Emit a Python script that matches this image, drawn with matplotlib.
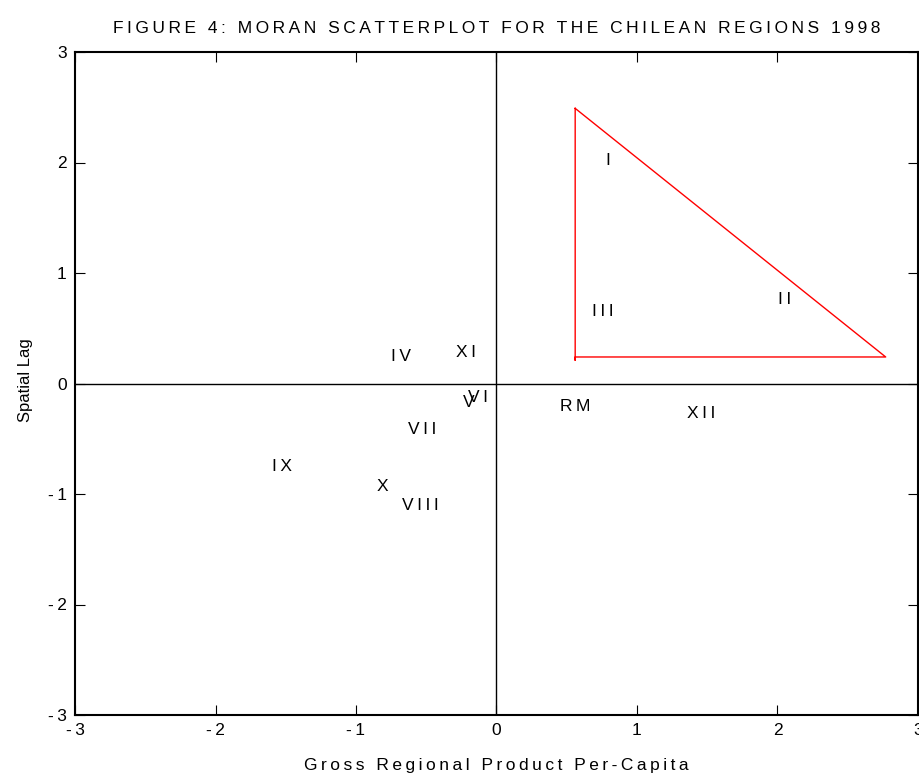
import matplotlib
matplotlib.use("Agg")
import matplotlib.pyplot as plt

# Moran scatterplot, Chilean regions 1998
regions = ["I", "II", "III", "IV", "XI", "V", "VI", "VII", "VIII", "IX", "X", "RM", "XII"]
gdp_pc = [0.79, 2.05, 0.76, -0.68, -0.22, -0.20, -0.13, -0.53, -0.54, -1.53, -0.81, 0.56, 1.46]
spatial_lag = [2.02, 0.76, 0.65, 0.24, 0.28, -0.17, -0.13, -0.42, -1.10, -0.75, -0.93, -0.21, -0.27]

# red triangle drawn round the first quadrant group
# (the vertical side pokes a little below the base, as in the print)
tri_x = [0.56, 0.56, 0.56, 2.77, 0.56]
tri_y = [2.49, 0.21, 0.24, 0.24, 2.49]

ticks = [-3, -2, -1, 0, 1, 2, 3]
tick_labels = ["-3", "-2", "-1", "0", "1", "2", "3"]


def spaced(s):
    # the original print has wide letter tracking; thin spaces mimic it
    return "\u2009".join(s)


plt.rcParams["font.family"] = ["Liberation Sans", "DejaVu Sans"]

fig = plt.figure(figsize=(9.2, 7.78), dpi=100)
ax = fig.add_axes([75 / 920, 63 / 778, 843 / 920, 663 / 778])

ax.axhline(0, color="black", linewidth=1.0)
ax.axvline(0, color="black", linewidth=1.0)
ax.plot(tri_x, tri_y, color="red", linewidth=1.0)

for name, x, y in zip(regions, gdp_pc, spatial_lag):
    ax.text(x, y, spaced(name), ha="center", va="center", fontsize=12.5)

ax.set_xlim(-3, 3)
ax.set_ylim(-3, 3)
ax.set_xticks(ticks, [spaced(t) for t in tick_labels])
ax.set_yticks(ticks, [spaced(t) for t in tick_labels])
ax.tick_params(direction="in", length=7, width=0.8, labelsize=12.5,
               top=True, right=True, pad=6)
for s in ax.spines.values():
    s.set_linewidth(1.5)

ax.set_xlabel(spaced("Gross Regional Product Per-Capita"), fontsize=12.5)
ax.set_ylabel("Spatial Lag", fontsize=12)
ax.yaxis.set_label_coords(-0.05, 0.505)
ax.xaxis.set_label_coords(0.5, -0.065)
ax.set_title(spaced("FIGURE 4: MORAN SCATTERPLOT FOR THE CHILEAN REGIONS 1998"),
             fontsize=12.5, pad=14)

fig.savefig("out.png", dpi=100)
